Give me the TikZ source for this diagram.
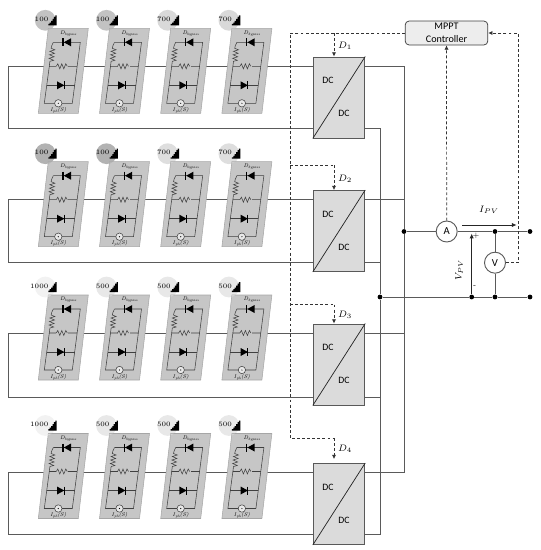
\documentclass[tikz,border=0pt]{standalone}
\usepackage{fontspec}
\setsansfont{Carlito}
\usepackage{tikz}
\usetikzlibrary{arrows.meta,positioning,calc}
\definecolor{wirecol}{HTML}{5A5A5A}
\definecolor{panelcol}{HTML}{C6C6C6}
\newcommand{\tinysub}[2]{\textit{#1}\raisebox{-0.45ex}{\fontsize{2.7}{3}\selectfont\textit{#2}}}
\newcommand{\pvmodule}[4]{%
\begin{scope}[shift={(#1,#2)}]
\fill[#3] (-3,-8) circle (10.4);
\draw[gray!70, line width=0.4pt, fill=panelcol] (0,0) -- (40,0) -- (30,85) -- (-10,85) -- cycle;
\begin{scope}
\clip (0,0) -- (40,0) -- (30,85) -- (-10,85) -- cycle;
\fill[#3, opacity=0.55, preaction={fill=black!35, opacity=0.3}] (-3,-8) circle (10.4);
\end{scope}
\node[anchor=east, inner sep=0pt, font=\fontsize{5}{5}\selectfont] at (0.3,-9) {#4};
\fill[black] (0,-3) -- (8.4,-3) -- (8.4,-13) -- (7,-13) -- (7,-11.5) -- (5.6,-11.5) -- (5.6,-9.5) -- (4.2,-9.5) -- (4.2,-7.5) -- (2.8,-7.5) -- (2.8,-5.8) -- (1.4,-5.8) -- (1.4,-4.4) -- (0,-4.4) -- cycle;
\node[inner sep=0pt, font=\fontsize{4}{4}\selectfont] at (20,5) {\tinysub{D}{bypass}};
\draw[cell] (5,14) -- (32,14) -- (24,75) -- (-4,75) -- (1,38) -- (29,38);
\fill[panelcol] (-1.2,19) rectangle (7,32);
\draw[cell] (1,38) -- (1.6,33) -- (5.4,32) -- (0.8,30) -- (5.8,28.5) -- (1.2,26.5) -- (6.2,25) -- (1.6,23) -- (6.6,21.5) -- (2.8,20) -- (3.4,17.5) -- (5,14);
\fill[panelcol] (8,36) rectangle (20,40);
\draw[cell] (8,38) -- (9.5,35.5) -- (11.5,40.5) -- (13.5,35.5) -- (15.5,40.5) -- (17.5,35.5) -- (19,38);
\draw[cell] (-1.6,57) -- (26.4,57);
\fill[black] (22.7,10) -- (22.7,18) -- (15.5,14) -- cycle;
\draw[line width=0.8pt] (14.7,10) -- (14.7,18);
\fill[black] (8.7,53) -- (8.7,61) -- (16,57) -- cycle;
\draw[line width=0.8pt] (16,53) -- (16,61);
\draw[cell, fill=panelcol!40] (10,75) circle (3.7);
\fill[black] (10,75) circle (0.6);
\node[inner sep=0pt, font=\fontsize{4}{4}\selectfont] at (10,82) {\tinysub{I}{ph}\textit{(S)}};
\end{scope}
}
\begin{document}
\begin{tikzpicture}[
x=0.75pt, y=-0.75pt,
cell/.style={draw=black!75, line width=0.4pt},
conv/.style={draw=gray!70!black, line width=0.7pt, fill=black!14, minimum width=38.6pt, minimum height=60.75pt, inner sep=0pt},
wire/.style={draw=wirecol, line width=0.65pt},
sig/.style={draw=black!80, line width=0.55pt, dash pattern=on 2.2pt off 1.6pt},
sigarrow/.style={sig, -{Latex[length=3.2pt,width=3.2pt]}},
arrow/.style={-{Latex[length=3.6pt,width=3.2pt]}, draw=black!85, line width=0.65pt},
meter/.style={draw=wirecol, line width=0.7pt, fill=white, circle, minimum size=15.75pt, inner sep=0pt, font=\sffamily\fontsize{8}{8}\selectfont},
junction/.style={circle, fill=black, minimum size=3.6pt, inner sep=0pt},
lbl/.style={inner sep=0pt, font=\fontsize{7.5}{8}\selectfont},
dclabel/.style={inner sep=0pt, font=\sffamily\fontsize{7.3}{8}\selectfont}
]
\useasboundingbox (0,0) rectangle (541,550);

\node[draw=black!75, line width=0.55pt, rounded corners=3pt, fill=black!7, minimum width=62pt, minimum height=18pt, align=center, inner sep=0pt, font=\sffamily\fontsize{7.6}{9.4}\selectfont] (mppt) at (446.5,33) {MPPT\\Controller};

\node[meter] (meterA) at (446.7,231.5) {A};
\node[meter] (meterV) at (495,262.7) {V};
\node[junction] (busA) at (404,231.5) {};
\node[junction] (busB) at (380,297) {};
\node[junction] (topmid) at (495,231.5) {};
\node[junction] (topend) at (530,231.5) {};
\node[junction] (botleft) at (471.7,297) {};
\node[junction] (botmid) at (495,297) {};
\node[junction] (botend) at (530,297) {};

\foreach \rownum/\ytop/\ybot/\ybox in {1/66/128/97.5, 2/199.3/262/231, 3/333/397/364.5, 4/472/534/504}{
\node[conv] (conv\rownum) at (339,\ybox) {};
\draw[line width=0.55pt, draw=black!85] (conv\rownum.south west) -- (conv\rownum.north east);
\node[dclabel] (dca\rownum) at ($(conv\rownum)+(-11,-17)$) {DC};
\node[dclabel] (dcb\rownum) at ($(conv\rownum)+(5,16)$) {DC};
\coordinate (outer\rownum) at (8,\ytop);
\coordinate (ina\rownum) at (conv\rownum.west |- outer\rownum);
\coordinate (inb\rownum) at ($(conv\rownum.west)+(0,\ybot-\ybox)$);
\coordinate (outa\rownum) at (conv\rownum.east |- outer\rownum);
\coordinate (outb\rownum) at (conv\rownum.east |- inb\rownum);
\draw[wire] (ina\rownum) -- (outer\rownum) |- (inb\rownum);
\draw[wire] (outa\rownum) -| (busA);
\draw[wire] (outb\rownum) -| (busB);
}

\draw[wire] (busA) -- (meterA);
\draw[wire] (meterA) -- (topmid);
\draw[wire] (topmid) -- (topend);
\draw[wire] (busB) -- (botleft);
\draw[wire] (botleft) -- (botmid);
\draw[wire] (botmid) -- (botend);
\draw[wire] (topmid) -- (meterV);
\draw[wire] (meterV) -- (botmid);

\coordinate (railtop) at (290,33);
\coordinate (tapa) at (334,33);
\coordinate (tapb) at (334,165);
\coordinate (tapc) at (334,304.5);
\coordinate (tapd) at (334,438);
\coordinate (railend) at (518,33);
\draw[sig] (mppt.west) -- (railtop) |- (tapd);
\draw[sig] (railtop |- tapb) -- (tapb);
\draw[sig] (railtop |- tapc) -- (tapc);
\draw[sigarrow] (tapa) -- (tapa |- conv1.north);
\draw[sigarrow] (tapb) -- (tapb |- conv2.north);
\draw[sigarrow] (tapc) -- (tapc |- conv3.north);
\draw[sigarrow, shorten >=3pt] (tapd) -- (tapd |- conv4.north);
\draw[sigarrow] (meterA) -- (mppt);
\draw[sigarrow] (meterV.east) -| (railend) -- (mppt.east);

\node[lbl] (dutya) at (345,46) {$D_1$};
\node[lbl] (dutyb) at (345,179) {$D_2$};
\node[lbl] (dutyc) at (345,315) {$D_3$};
\node[lbl] (dutyd) at (345,449) {$D_4$};

\coordinate (ipvstart) at (462.3,225);
\coordinate (ipvend) at (516.7,225);
\coordinate (vpvtop) at (471.7,233.5);
\draw[arrow] (ipvstart) -- (ipvend);
\draw[arrow] (botleft) -- (vpvtop);
\node[lbl] (ipv) at (489,210) {$I_{PV}$};
\node[lbl, rotate=90] (vpv) at (459,270) {$V_{PV}$};
\node[lbl, font=\fontsize{5}{5}\selectfont] (plus) at (476,235.5) {+};
\node[lbl, font=\fontsize{5}{5}\selectfont] (minus) at (474.7,287) {-};

\foreach \ymod/\shone/\valone/\shtwo/\valtwo/\shrest/\valrest in {
28.3/black!24/100/black!24/100/black!15/700,
161.7/black!30/100/black!30/100/black!13/700,
295/black!5/1000/black!9/500/black!9/500,
433.5/black!5/1000/black!9/500/black!9/500}{
\pvmodule{48.3}{\ymod}{\shone}{\valone}
\pvmodule{109.5}{\ymod}{\shtwo}{\valtwo}
\pvmodule{170.7}{\ymod}{\shrest}{\valrest}
\pvmodule{231.9}{\ymod}{\shrest}{\valrest}
}
\end{tikzpicture}
\end{document}
